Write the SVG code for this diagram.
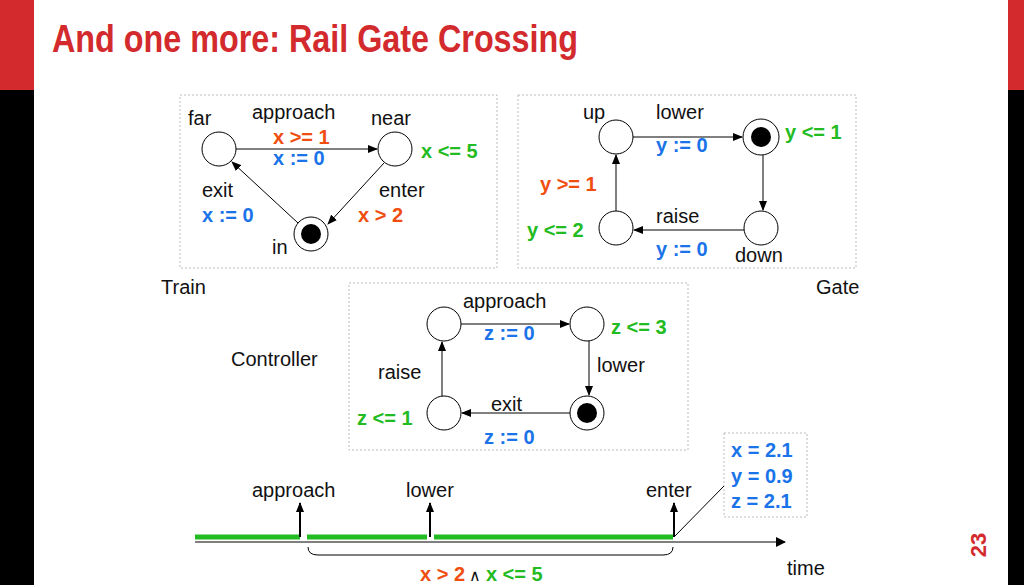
<svg xmlns="http://www.w3.org/2000/svg" width="1024" height="585" viewBox="0 0 1024 585">
<style>
text{font-family:"Liberation Sans",Arial,sans-serif;font-size:20px;fill:#111}
.b{font-weight:bold}
.o{fill:#f04e0f;font-weight:bold}
.bl{fill:#1a73e8;font-weight:bold}
.g{fill:#22bb22;font-weight:bold}
.box{fill:none;stroke:#bbb;stroke-width:1;stroke-dasharray:2 2}
.st{fill:#fff;stroke:#000;stroke-width:1}
.e{stroke:#000;stroke-width:1;fill:none;marker-end:url(#a)}
</style>
<defs>
<marker id="a" markerWidth="10" markerHeight="8" refX="9" refY="4" orient="auto" markerUnits="userSpaceOnUse"><path d="M0,0L10,4L0,8z" fill="#000"/></marker>
<marker id="a2" markerWidth="10" markerHeight="10" refX="9" refY="5" orient="auto" markerUnits="userSpaceOnUse"><path d="M0,0L10,5L0,10z" fill="#000"/></marker>
</defs>
<rect width="1024" height="585" fill="#fff"/>
<rect x="0" y="0" width="34" height="90" fill="#d32a2e"/>
<rect x="0" y="90" width="34" height="495" fill="#000"/>
<rect x="1008" y="0" width="16" height="90" fill="#d32a2e"/>
<rect x="1008" y="90" width="16" height="495" fill="#000"/>
<text x="52" y="52" class="b" style="font-size:38px;fill:#d32a2e" textLength="526" lengthAdjust="spacingAndGlyphs">And one more: Rail Gate Crossing</text>
<text x="986" y="545" class="b" style="font-size:22px;fill:#d32a2e" transform="rotate(-90 986 545)" text-anchor="middle">23</text>

<rect class="box" x="180" y="95" width="317" height="173"/>
<rect class="box" x="518" y="95" width="338" height="173"/>
<rect class="box" x="349" y="283" width="339" height="167"/>
<rect class="box" x="724" y="433" width="83" height="84"/>

<g id="connectors">
<line class="e" x1="236" y1="149" x2="377" y2="149"/>
<line class="e" x1="384" y1="163" x2="328" y2="224"/>
<line class="e" x1="298" y1="223" x2="232" y2="162"/>
<line class="e" x1="616" y1="211" x2="616" y2="155"/>
<line class="e" x1="633" y1="137" x2="742" y2="137"/>
<line class="e" x1="763" y1="155" x2="763" y2="210"/>
<line class="e" x1="744" y1="230" x2="634" y2="230"/>
<line class="e" x1="461" y1="324" x2="569" y2="324"/>
<line class="e" x1="589" y1="341" x2="589" y2="395"/>
<line class="e" x1="570" y1="413" x2="462" y2="413"/>
<line class="e" x1="442" y1="396" x2="442" y2="342"/>
</g>

<g id="far"><circle class="st" cx="219" cy="149" r="17"/><text x="188" y="125">far</text></g>
<g id="near"><circle class="st" cx="395" cy="149" r="17"/><text x="371" y="125">near</text><text x="421" y="158" class="g">x &lt;= 5</text></g>
<g id="in"><circle class="st" cx="311" cy="234" r="17"/><circle cx="311" cy="234" r="10" fill="#000"/><text x="272" y="254">in</text></g>
<text x="252" y="119">approach</text>
<text x="273" y="144" class="o">x &gt;= 1</text>
<text x="273" y="165" class="bl">x := 0</text>
<text x="202" y="197">exit</text>
<text x="202" y="222" class="bl">x := 0</text>
<text x="379" y="197">enter</text>
<text x="358" y="222" class="o">x &gt; 2</text>
<text x="161" y="294">Train</text>

<g id="up"><circle class="st" cx="616" cy="137" r="17"/><text x="583" y="119">up</text></g>
<g id="g2"><circle class="st" cx="761" cy="137" r="18"/><circle cx="761" cy="137" r="10" fill="#000"/><text x="785" y="139" class="g">y &lt;= 1</text></g>
<g id="down"><circle class="st" cx="761" cy="228" r="17"/><text x="735" y="262">down</text></g>
<g id="g4"><circle class="st" cx="616" cy="228" r="17"/><text x="527" y="237" class="g">y &lt;= 2</text></g>
<text x="656" y="119">lower</text>
<text x="656" y="152" class="bl">y := 0</text>
<text x="540" y="191" class="o">y &gt;= 1</text>
<text x="656" y="223">raise</text>
<text x="656" y="256" class="bl">y := 0</text>
<text x="816" y="294">Gate</text>

<g id="c1"><circle class="st" cx="444" cy="324" r="17"/></g>
<g id="c2"><circle class="st" cx="587" cy="324" r="17"/><text x="611" y="334" class="g">z &lt;= 3</text></g>
<g id="c3"><circle class="st" cx="587" cy="413" r="17"/><circle cx="587" cy="413" r="10" fill="#000"/></g>
<g id="c4"><circle class="st" cx="444" cy="413" r="17"/><text x="357" y="425" class="g">z &lt;= 1</text></g>
<text x="463" y="308">approach</text>
<text x="484" y="340" class="bl">z := 0</text>
<text x="597" y="372">lower</text>
<text x="378" y="379">raise</text>
<text x="491" y="411">exit</text>
<text x="484" y="444" class="bl">z := 0</text>
<text x="231" y="366">Controller</text>

<text x="731" y="457" class="bl">x = 2.1</text>
<text x="731" y="483" class="bl">y = 0.9</text>
<text x="731" y="508" class="bl">z = 2.1</text>

<g id="timeline">
<line x1="195" y1="542" x2="785" y2="542" stroke="#000" stroke-width="1" marker-end="url(#a2)"/>
<g stroke="#22bb22" stroke-width="5"><line x1="195" y1="537" x2="300" y2="537"/><line x1="307" y1="537" x2="427" y2="537"/><line x1="434" y1="537" x2="673" y2="537"/></g>
<g stroke="#000" stroke-width="2" marker-end="url(#a)"><line x1="300" y1="537" x2="300" y2="503"/><line x1="430" y1="537" x2="430" y2="503"/><line x1="674" y1="537" x2="674" y2="503"/></g>
<line x1="674" y1="537" x2="724" y2="486" stroke="#000" stroke-width="1"/>
<path d="M308,547 Q308,555 318,555 L663,555 Q673,555 673,547" fill="none" stroke="#000" stroke-width="1"/>
<text x="252" y="497">approach</text>
<text x="406" y="497">lower</text>
<text x="646" y="497">enter</text>
<text x="787" y="575">time</text>
<text x="420" y="581"><tspan class="o">x &gt; 2</tspan><tspan style="font-size:16px"> ∧ </tspan><tspan class="g">x &lt;= 5</tspan></text>
</g>
</svg>
